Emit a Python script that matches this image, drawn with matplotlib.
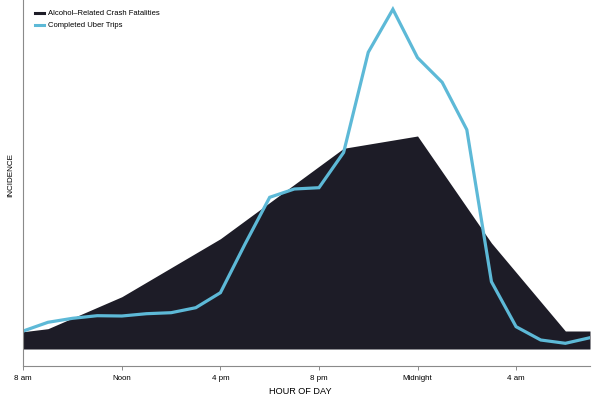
import matplotlib
matplotlib.use("Agg")
import matplotlib.pyplot as plt
from matplotlib.lines import Line2D

# Hours after 8 am
hours = list(range(24))
uber_trips = [18, 26.7, 30.7, 33.3, 33, 35.3, 36.3, 41.3, 56.3, 105, 151.7, 160, 161.3,
              196.5, 296.7, 339.7, 291.3, 266.7, 219.3, 67.3, 22.3, 9, 5.7, 11.3]

fat_hours = [0, 1, 4, 8, 13, 16, 19, 22, 23]
fatalities = [17.3, 20.3, 52.3, 110.3, 200.7, 213, 106, 18, 18]

tick_pos = [0, 4, 8, 12, 16, 20]
tick_labels = ["8 am", "Noon", "4 pm", "8 pm", "Midnight", "4 am"]

fill_color = "#1d1c27"
line_color = "#5db9d7"
axis_color = "#8a8a8a"

plt.rcParams['font.family'] = ['Liberation Sans', 'DejaVu Sans']

fig = plt.figure(figsize=(6, 3.95), dpi=100)
ax = fig.add_axes([23.3 / 600, 29 / 395, (590 - 23.3) / 600, 366 / 395])

ax.fill_between(fat_hours, fatalities, 0, color=fill_color, lw=0)
ax.plot(hours, uber_trips, color=line_color, lw=2.3, solid_joinstyle='miter')

ax.set_xlim(0, 23)
ax.set_ylim(-17, 349)

for s in ["top", "right"]:
    ax.spines[s].set_visible(False)
for s in ["left", "bottom"]:
    ax.spines[s].set_color(axis_color)
    ax.spines[s].set_linewidth(0.8)

ax.set_yticks([])
ax.set_xticks(tick_pos)
ax.set_xticklabels(tick_labels, fontsize=5.7)
ax.tick_params(axis='x', length=3, width=0.7, color=axis_color, pad=3.5)

fig.text(300 / 600, 1 - 391 / 395, "HOUR OF DAY", ha='center', va='center', fontsize=6.6)
fig.text(11 / 600, 1 - 175 / 395, "INCIDENCE", ha='center', va='center', fontsize=5.9, rotation=90)

handles = [Line2D([], [], color=fill_color, lw=2.2),
           Line2D([], [], color=line_color, lw=2.2)]
ax.legend(handles, ["Alcohol\u2013Related Crash Fatalities", "Completed Uber Trips"],
          loc='upper left', bbox_to_anchor=(0.0033, 1.0), frameon=False, fontsize=5.5,
          handlelength=1.2, handletextpad=0.45, labelspacing=0.62,
          borderpad=0.4, borderaxespad=0.89)

fig.savefig("out.png", dpi=100)
